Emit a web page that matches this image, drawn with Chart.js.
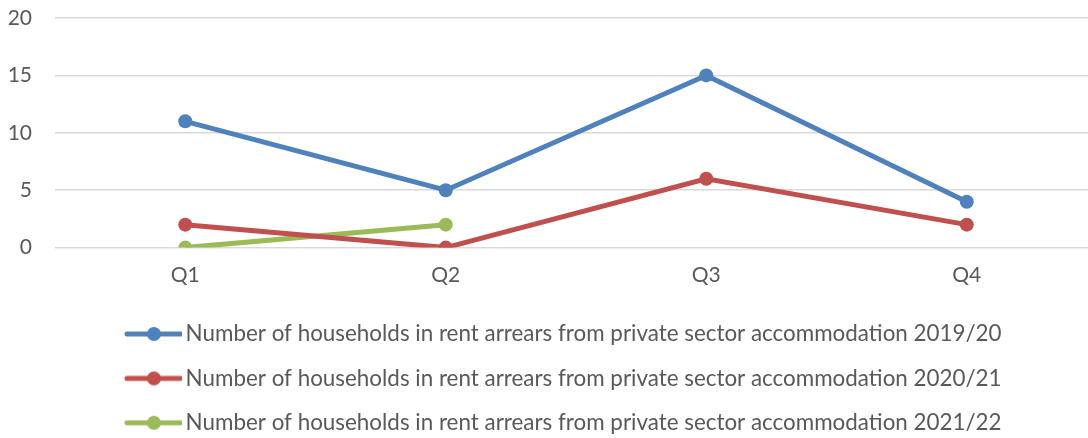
<!DOCTYPE html>
<html>
<head>
<meta charset="utf-8">
<script src="https://cdn.jsdelivr.net/npm/chart.js@4"></script>
<style>
  html, body { margin: 0; padding: 0; background: #fff; overflow: hidden; }
  #wrap { width: 1097px; height: 438px; }
</style>
</head>
<body>
<div id="wrap"><canvas id="chart"></canvas></div>
<script>
const quarters = ["Q1", "Q2", "Q3", "Q4"];
const arrears1920 = [11, 5, 15, 4];
const arrears2021 = [2, 0, 6, 2];
const arrears2122 = [0, 2, null, null];
const seriesNames = [
  "Number of households in rent arrears from private sector accommodation 2019/20",
  "Number of households in rent arrears from private sector accommodation 2020/21",
  "Number of households in rent arrears from private sector accommodation 2021/22",
];
const colors = ["#4F81BD", "#C0504D", "#9BBB59"];
const yTicks = [0, 5, 10, 15, 20];
const FONT = "Lato, 'Open Sans', sans-serif";

// legend sample: line with a dot; the empty left part nudges the legend right
function legendIcon(color) {
  const c = document.createElement("canvas");
  c.width = 94; c.height = 16;
  const ctx = c.getContext("2d");
  ctx.strokeStyle = color;
  ctx.lineWidth = 5;
  ctx.lineCap = "round";
  ctx.beginPath();
  ctx.moveTo(39, 8); ctx.lineTo(93, 8);
  ctx.stroke();
  ctx.fillStyle = color;
  ctx.beginPath();
  ctx.arc(66, 8, 7, 0, Math.PI * 2);
  ctx.fill();
  return c;
}

const icons = colors.map(legendIcon);

const datasets = [arrears1920, arrears2021, arrears2122].map((d, i) => ({
  label: seriesNames[i],
  data: d,
  borderColor: colors[i],
  backgroundColor: colors[i],
  borderWidth: 5,
  pointRadius: 7,
  pointHoverRadius: 7,
  pointBorderWidth: 0,
  tension: 0,
}));

new Chart(document.getElementById("chart").getContext("2d"), {
  type: "line",
  data: { labels: quarters, datasets },
  options: {
    responsive: true,
    maintainAspectRatio: false,
    animation: false,
    layout: { autoPadding: false, padding: { top: 18, right: 0, left: 0, bottom: -6 } },
    plugins: {
      tooltip: { enabled: false },
      legend: {
        position: "bottom",
        align: "center",
        labels: {
          usePointStyle: true,
          pointStyleWidth: 79,
          padding: 22,
          color: "#595959",
          font: { family: FONT, size: 22.4 },
          generateLabels: (chart) => chart.data.datasets.map((ds, i) => ({
            text: ds.label,
            pointStyle: icons[i],
            fillStyle: ds.borderColor,
            strokeStyle: ds.borderColor,
            lineWidth: 0,
            fontColor: "#595959",
            datasetIndex: i,
            hidden: false,
          })),
        },
      },
    },
    scales: {
      x: {
        offset: true,
        grid: { display: false },
        border: { display: false },
        afterFit: (axis) => { axis.height += 6; },
        ticks: { color: "#595959", font: { family: FONT, size: 21 }, padding: 7 },
      },
      y: {
        min: 0,
        max: 20,
        afterBuildTicks: (axis) => { axis.ticks = yTicks.map((v) => ({ value: v })); },
        afterFit: (axis) => { axis.width = 55; },
        grid: { color: "#D9D9D9", lineWidth: 1.5, drawTicks: true, tickLength: 23, tickColor: "rgba(0,0,0,0)" },
        border: { display: false },
        ticks: { color: "#595959", font: { family: FONT, size: 21 }, padding: 0 },
      },
    },
  },
});
</script>
</body>
</html>
